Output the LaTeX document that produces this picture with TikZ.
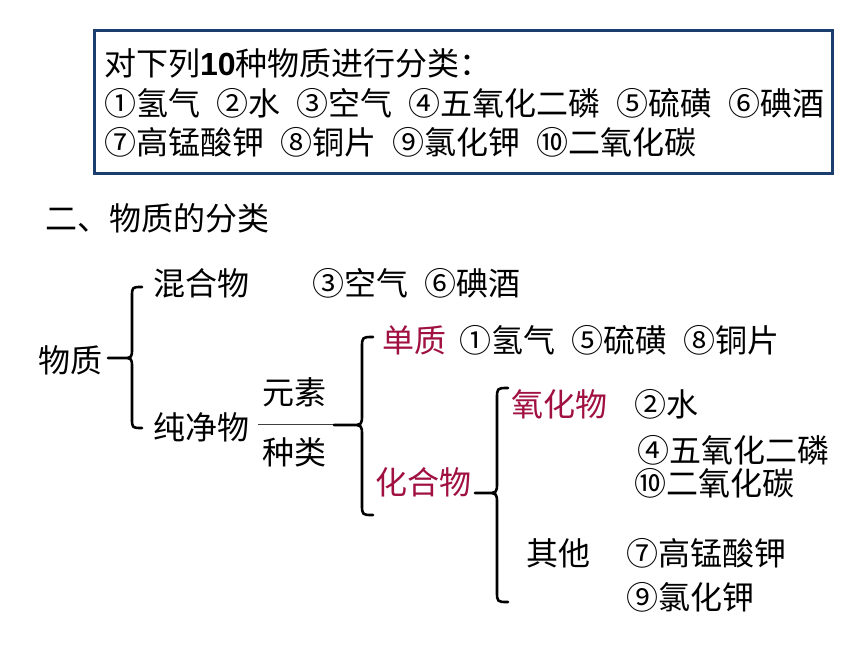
\documentclass[tikz,border=0pt]{standalone}
\usepackage{fontspec}
\setmainfont{Noto Sans CJK SC}
\newfontfamily\latf{Liberation Sans}
\definecolor{boxnavy}{RGB}{28,62,110}
\definecolor{kred}{RGB}{160,16,64}
\newcommand\gap{\hspace{0.5em}}
\newcommand\brc[6]{% x, top, tip, bottom, tipx, r
  \draw[bracestyle] (#1+#6,#2) .. controls (#1,#2) .. (#1,#2+#6) -- (#1,#3-#6) .. controls (#1,#3) .. (#1-#6,#3) -- (#5,#3)
     (#1-#6,#3) .. controls (#1,#3) .. (#1,#3+#6) -- (#1,#4-#6) .. controls (#1,#4) .. (#1+#6,#4);}
\begin{document}
\begin{tikzpicture}[x=1pt,y=-1pt,
  txt/.style={anchor=west,inner sep=0pt,font=\fontsize{32}{38}\selectfont},
  rtxt/.style={txt,text=kred},
  bracestyle/.style={line width=2.6pt,line cap=round,line join=round},
  frame/.style={draw=boxnavy,line width=3pt}]
\useasboundingbox[fill=white] (0,0) rectangle (860,645);
% top box
\node[frame,inner sep=0pt,minimum width=738pt,minimum height=143pt,anchor=north west] (box) at (93,29) {};
\node[txt] (l1) at (104,63) {对下列{\latf\bfseries 10}种物质进行分类：};
\node[txt] (l2) at (104,103) {①氢气\gap②水\gap③空气\gap④五氧化二磷\gap⑤硫磺\gap⑥碘酒};
\node[txt] (l3) at (104,142) {⑦高锰酸钾\gap⑧铜片\gap⑨氯化钾\gap⑩二氧化碳};
% heading
\node[txt] (h) at (45,218) {二、物质的分类};
% tree
\node[txt] (wz) at (38,360) {物质};
\node[txt] (hhw) at (153,283) {混合物};
\node[txt] (hhwx) at (312,283) {③空气\gap⑥碘酒};
\node[txt] (cjw) at (153,427) {纯净物};
\node[txt] (ys) at (262,392) {元素};
\node[txt] (zl) at (262,452) {种类};
\coordinate (lineL) at (258,424);
\coordinate (lineR) at (334,424);
\draw[line width=1pt,black!75] (lineL) -- (lineR);
\node[rtxt] (dz) at (382,340) {单质};
\node[txt] (dzx) at (459,340) {①氢气\gap⑤硫磺\gap⑧铜片};
\node[rtxt] (hhw2) at (375,482) {化合物};
\node[rtxt] (yhw) at (511,404) {氧化物};
\node[txt] (s) at (634,404) {②水};
\node[txt] (p) at (637,450) {④五氧化二磷};
\node[txt] (c) at (634,483) {⑩二氧化碳};
\node[txt] (qt) at (526,553) {其他};
\node[txt] (k1) at (626,553) {⑦高锰酸钾};
\node[txt] (k2) at (626,597) {⑨氯化钾};
% braces
\brc{132}{287}{358}{428}{108}{10}
\brc{362}{337}{425}{515}{334}{11}
\brc{497}{388}{493}{602}{475}{11}
\end{tikzpicture}
\end{document}
